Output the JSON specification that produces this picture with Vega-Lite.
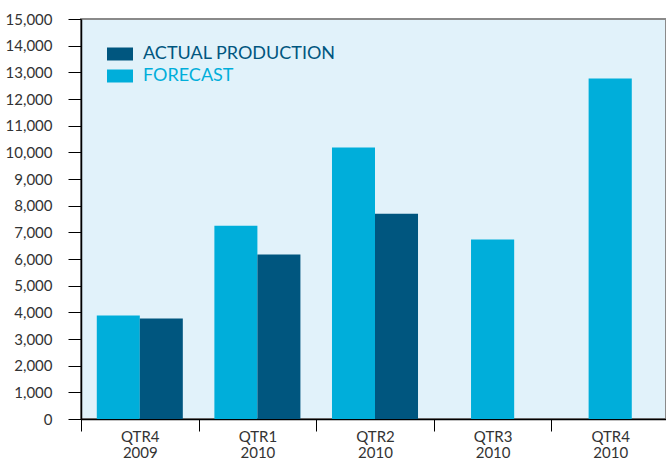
{
  "$schema": "https://vega.github.io/schema/vega-lite/v6.json",
  "autosize": {"type": "none"},
  "padding": {"left": 81, "top": 19, "right": 0, "bottom": 41},
  "width": 585,
  "height": 400,
  "background": "#ffffff",
  "config": {
    "font": "Lato",
    "view": {"fill": "#E1F2FA", "stroke": "#8a8a8a", "strokeWidth": 2}
  },
  "data": {
    "values": [
      {"quarter": "QTR4 2009", "series": "FORECAST", "value": 3880},
      {"quarter": "QTR4 2009", "series": "ACTUAL PRODUCTION", "value": 3770},
      {"quarter": "QTR1 2010", "series": "FORECAST", "value": 7250},
      {"quarter": "QTR1 2010", "series": "ACTUAL PRODUCTION", "value": 6170},
      {"quarter": "QTR2 2010", "series": "FORECAST", "value": 10180},
      {"quarter": "QTR2 2010", "series": "ACTUAL PRODUCTION", "value": 7700},
      {"quarter": "QTR3 2010", "series": "FORECAST", "value": 6730},
      {"quarter": "QTR4 2010", "series": "FORECAST", "value": 12770}
    ]
  },
  "transform": [
    {"joinaggregate": [{"op": "count", "as": "n"}], "groupby": ["quarter"]}
  ],
  "encoding": {
    "x": {
      "field": "quarter",
      "type": "nominal",
      "sort": null,
      "title": null,
      "scale": {"paddingInner": 0, "paddingOuter": 0, "range": [0, 588]},
      "axis": {
        "labelAngle": 0,
        "labelExpr": "split(datum.label, ' ')",
        "labelFontSize": 15,
        "labelColor": "#333333",
        "labelLineHeight": 16,
        "labelPadding": -2,
        "tickBand": "extent",
        "tickSize": 12,
        "tickColor": "#000000",
        "domainColor": "#000000",
        "domainWidth": 1.5
      }
    },
    "y": {
      "field": "value",
      "type": "quantitative",
      "title": null,
      "scale": {"domain": [0, 15000], "nice": false},
      "axis": {
        "values": [0,1000,2000,3000,4000,5000,6000,7000,8000,9000,10000,11000,12000,13000,14000,15000],
        "format": ",d",
        "grid": false,
        "labelFontSize": 15,
        "labelColor": "#333333",
        "labelPadding": 16,
        "tickSize": 13,
        "tickColor": "#000000",
        "domainColor": "#000000",
        "domainWidth": 1.5
      }
    },
    "color": {
      "field": "series",
      "type": "nominal",
      "scale": {"domain": ["ACTUAL PRODUCTION", "FORECAST"], "range": ["#00567F", "#00AEDA"]},
      "legend": {
        "title": null,
        "orient": "none",
        "legendX": 26,
        "legendY": 22,
        "symbolType": "M-1,-0.5H1V0.5H-1Z",
        "symbolSize": 676,
        "symbolStrokeWidth": 0,
        "symbolOpacity": 1,
        "labelFontSize": 18,
        "labelOffset": 10,
        "rowPadding": -7,
        "labelLimit": 400,
        "encode": {
          "labels": {"update": {"fill": {"signal": "datum.value === 'ACTUAL PRODUCTION' ? '#00567F' : '#00AEDA'"}}}
        }
      }
    }
  },
  "layer": [
    {
      "transform": [{"filter": "datum.n == 2"}],
      "mark": {"type": "bar"},
      "encoding": {
        "xOffset": {
          "field": "series",
          "type": "nominal",
          "scale": {"domain": ["FORECAST", "ACTUAL PRODUCTION"], "paddingInner": 0, "paddingOuter": 0.367}
        }
      }
    },
    {
      "transform": [{"filter": "datum.n == 1"}],
      "mark": {"type": "bar", "width": {"band": 0.367}}
    }
  ]
}
